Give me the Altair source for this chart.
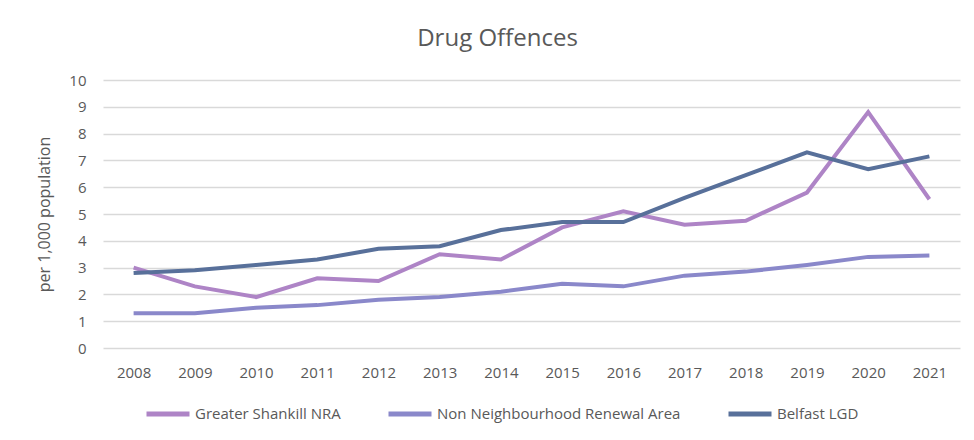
import altair as alt
import pandas as pd

years = ["2008", "2009", "2010", "2011", "2012", "2013", "2014",
         "2015", "2016", "2017", "2018", "2019", "2020", "2021"]
series_names = ["Greater Shankill NRA", "Non Neighbourhood Renewal Area", "Belfast LGD"]
shankill = [3.0, 2.3, 1.9, 2.6, 2.5, 3.5, 3.3, 4.5, 5.1, 4.6, 4.75, 5.8, 8.8, 5.55]
non_nra = [1.3, 1.3, 1.5, 1.6, 1.8, 1.9, 2.1, 2.4, 2.3, 2.7, 2.85, 3.1, 3.4, 3.45]
belfast = [2.8, 2.9, 3.1, 3.3, 3.7, 3.8, 4.4, 4.7, 4.7, 5.6, 6.45, 7.3, 6.67, 7.15]
colors = ["#AE84C6", "#8A88CA", "#58709A"]
y_ticks = [0, 1, 2, 3, 4, 5, 6, 7, 8, 9, 10]

rows = []
for name, vals in zip(series_names, [shankill, non_nra, belfast]):
    for y, v in zip(years, vals):
        rows.append({"Year": y, "Series": name, "Value": v})
df = pd.DataFrame(rows)

FONT = "Open Sans"
GREY = "#595959"

chart = alt.Chart(df).mark_line(strokeWidth=4).encode(
    x=alt.X("Year:N", sort=years, title=None,
            scale=alt.Scale(paddingInner=0, paddingOuter=0.5),
            axis=alt.Axis(labelAngle=0, ticks=False, domain=False, grid=False,
                          labelFont=FONT, labelFontSize=15, labelColor=GREY,
                          labelPadding=17)),
    y=alt.Y("Value:Q", title="per 1,000 population",
            scale=alt.Scale(domain=[0, 10], nice=False),
            axis=alt.Axis(values=y_ticks, ticks=False, domain=False,
                          gridColor="#D9D9D9", gridWidth=1.3,
                          labelFont=FONT, labelFontSize=15, labelColor=GREY,
                          labelPadding=17, titleFont=FONT, titleFontSize=16,
                          titleColor=GREY, titleFontWeight="normal",
                          titlePadding=16)),
    color=alt.Color("Series:N",
                    scale=alt.Scale(domain=series_names, range=colors),
                    legend=alt.Legend(title=None, orient="none", legendX=41, legendY=310,
                                      direction="horizontal", symbolType="stroke",
                                      symbolSize=1849, symbolStrokeWidth=5,
                                      labelFont=FONT, labelFontSize=15, labelColor=GREY,
                                      labelLimit=0, labelOffset=3, columnPadding=37)),
).properties(
    width=857,
    height=268,
    title=alt.TitleParams("Drug Offences", font=FONT, fontSize=24, color=GREY,
                          fontWeight="normal", anchor="middle", dx=-34,
                          baseline="alphabetic", offset=3),
    autosize=alt.AutoSizeParams(type="none"),
    padding={"left": 95, "top": 72, "right": 6, "bottom": 84},
).configure_view(stroke=None)

chart.save("out.html", embed_options={"renderer": "svg", "actions": False})
